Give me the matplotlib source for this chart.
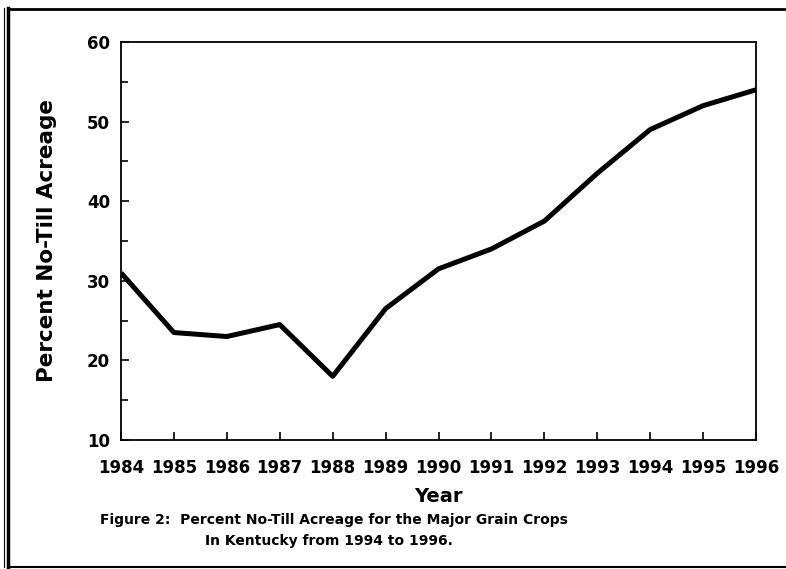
import matplotlib
matplotlib.use("Agg")
import matplotlib.pyplot as plt
from matplotlib.ticker import MultipleLocator
from matplotlib.lines import Line2D

years = [1984, 1985, 1986, 1987, 1988, 1989, 1990, 1991, 1992, 1993, 1994, 1995, 1996]
percent_no_till = [31.0, 23.5, 23.0, 24.5, 18.0, 26.5, 31.5, 34.0, 37.5, 43.5, 49.0, 52.0, 54.0]
y_ticks = [10, 20, 30, 40, 50, 60]

plt.rcParams["font.family"] = ["DejaVu Sans"]
plt.rcParams["font.weight"] = "bold"

W, H = 786, 569
fig = plt.figure(figsize=(W / 100, H / 100), dpi=100)
ax = fig.add_axes([121 / W, 1 - 440 / H, (756 - 121) / W, (440 - 42) / H])

ax.plot(years, percent_no_till, color="black", lw=3.6, solid_joinstyle="round", solid_capstyle="butt")
ax.set_xlim(1984, 1996)
ax.set_ylim(10, 60)
ax.set_xticks(years)
ax.set_yticks(y_ticks)
ax.yaxis.set_minor_locator(MultipleLocator(5))
ax.tick_params(axis="both", which="major", direction="in", length=6, width=1.2, color="black",
               labelsize=12)
ax.tick_params(axis="y", which="minor", direction="in", length=5, width=1.2)
ax.tick_params(axis="x", pad=14)
ax.tick_params(axis="y", pad=8)
for lab in ax.get_xticklabels() + ax.get_yticklabels():
    lab.set_fontweight("bold")
for sp in ax.spines.values():
    sp.set_linewidth(1.3)

fig.text(47 / W, 1 - 241 / H, "Percent No-Till Acreage", rotation=90, ha="center", va="center",
         fontsize=15.5, fontweight="bold")
fig.text(438 / W, 1 - 496 / H, "Year", ha="center", va="center",
         fontsize=14, fontweight="bold")
fig.text(100 / W, 1 - 520 / H, "Figure 2:  Percent No-Till Acreage for the Major Grain Crops",
         ha="left", va="center", fontsize=10, fontweight="bold")
fig.text(205 / W, 1 - 541 / H, "In Kentucky from 1994 to 1996.",
         ha="left", va="center", fontsize=10, fontweight="bold")

# page frame
fig.add_artist(Line2D([8 / W, 8 / W], [1 - 8 / H, 1 - 567 / H], transform=fig.transFigure, color="black", lw=2.5))
fig.add_artist(Line2D([4 / W, 4 / W], [1 - 8 / H, 1 - 567 / H], transform=fig.transFigure, color="black", lw=0.8))
fig.add_artist(Line2D([8 / W, 1], [1 - 9 / H, 1 - 9 / H], transform=fig.transFigure, color="black", lw=2))
fig.add_artist(Line2D([8 / W, 1], [1 - 567 / H, 1 - 567 / H], transform=fig.transFigure, color="black", lw=1.5))

fig.savefig("out.png", dpi=100)
